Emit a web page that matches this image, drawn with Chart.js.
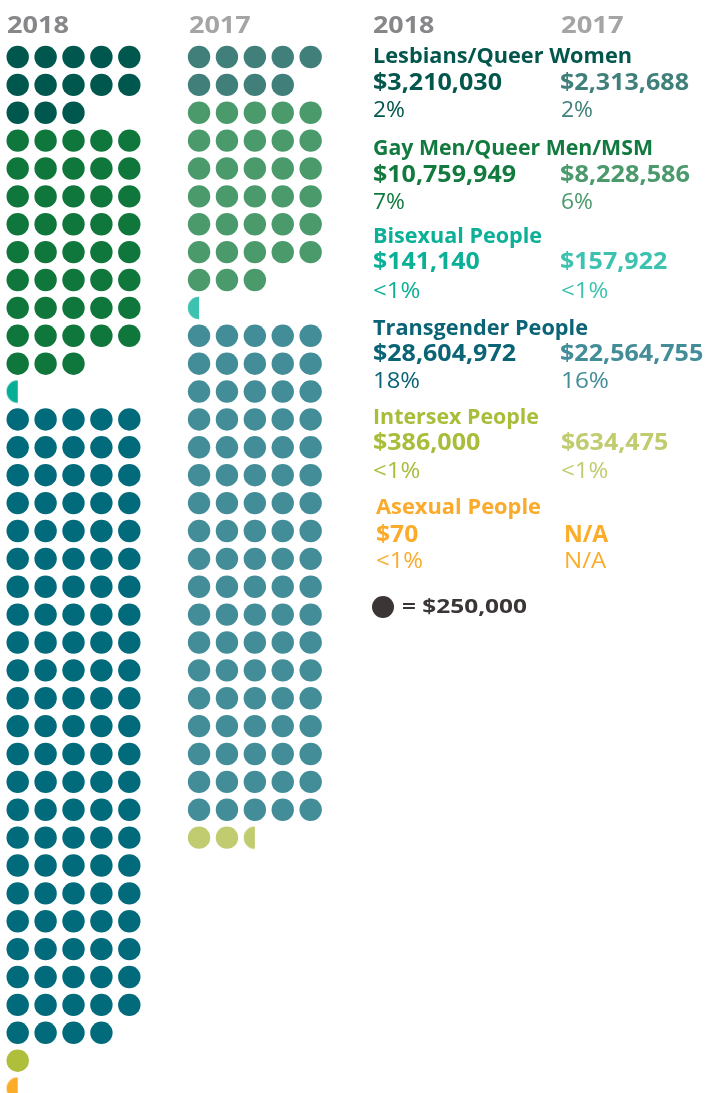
<!DOCTYPE html>
<html>
<head>
<meta charset="utf-8">
<script src="https://cdn.jsdelivr.net/npm/chart.js@4.4.1/dist/chart.umd.min.js"></script>
<style>
  html, body { margin: 0; padding: 0; background: #ffffff; }
  #wrap { position: relative; width: 707px; height: 1093px; overflow: hidden; background: #fff; }
  #chart { position: absolute; left: 0; top: 0; }
  .t { position: absolute; white-space: nowrap; font-family: "Open Sans", "DejaVu Sans", sans-serif; transform-origin: 0 0; line-height: 1.2; }
  .b { font-weight: 700; }
  .r { font-weight: 400; }
  #legdot { position: absolute; border-radius: 50%; background: #3b3535; }
</style>
</head>
<body>
<div id="wrap">
  <canvas id="chart" width="707" height="1093"></canvas>
</div>
<script>
// ---------------- DATA ----------------
const years = ['2018', '2017'];
const categories = ['Lesbians/Queer Women', 'Gay Men/Queer Men/MSM', 'Bisexual People', 'Transgender People', 'Intersex People', 'Asexual People'];
const amounts2018 = ['$3,210,030', '$10,759,949', '$141,140', '$28,604,972', '$386,000', '$70'];
const amounts2017 = ['$2,313,688', '$8,228,586', '$157,922', '$22,564,755', '$634,475', 'N/A'];
const pct2018 = ['2%', '7%', '<1%', '18%', '<1%', '<1%'];
const pct2017 = ['2%', '6%', '<1%', '16%', '<1%', 'N/A'];
// dots (1 dot = $250,000)
const fullDots2018 = [13, 43, 0, 114, 1, 0];
const halfDots2018 = [0, 0, 1, 0, 0, 1];
const fullDots2017 = [9, 33, 0, 90, 2, 0];
const halfDots2017 = [0, 0, 1, 0, 1, 0];
const dotLegend = '= $250,000';
const colors2018 = ['#00574d', '#0f773b', '#05ae94', '#016a7b', '#afbe3b', '#fbad2a'];
const colors2017 = ['#41807a', '#4b9a6b', '#3dc2b0', '#438d99', '#c1cc70', '#fbad2a'];
const labelColors = ['#02564c', '#127a3e', '#0bb096', '#0b6476', '#a9bd3b', '#fbab2b'];

// ---------------- GEOMETRY ----------------
const PER_ROW = 5;
const COL_OFFSET = { '2018': 0, '2017': 6.5 };
const R = 11.2;

function halfDotStyle(color) {
  const c = document.createElement('canvas');
  c.width = 24; c.height = 24;
  const g = c.getContext('2d');
  g.fillStyle = color;
  g.beginPath();
  g.moveTo(12, 12 + R);
  g.arc(12, 12, R, Math.PI / 2, Math.PI * 3 / 2);
  g.closePath();
  g.fill();
  return c;
}

function buildDatasets(year, full, half, cols) {
  const ds = [];
  let row = 0;
  for (let i = 0; i < categories.length; i++) {
    const n = full[i] + half[i];
    if (n === 0) continue;
    const fullPts = [], halfPts = [];
    for (let k = 0; k < n; k++) {
      const p = { x: COL_OFFSET[year] + (k % PER_ROW), y: row + Math.floor(k / PER_ROW) };
      (k < full[i] ? fullPts : halfPts).push(p);
    }
    if (fullPts.length) ds.push({ label: year + ' ' + categories[i], data: fullPts, backgroundColor: cols[i], borderWidth: 0, pointRadius: R, pointStyle: 'circle', clip: false });
    if (halfPts.length) ds.push({ label: year + ' ' + categories[i] + ' (partial)', data: halfPts, backgroundColor: cols[i], borderWidth: 0, pointRadius: R, pointStyle: halfDotStyle(cols[i]), clip: false });
    row += Math.ceil(n / PER_ROW);
  }
  return ds;
}

const datasets = [
  ...buildDatasets('2018', fullDots2018, halfDots2018, colors2018),
  ...buildDatasets('2017', fullDots2017, halfDots2017, colors2017)
];

const cell = 27.9, rowH = 27.88;
const xMin = -17.7 / cell, xMax = xMin + 707 / cell;
const yMin = -57 / rowH, yMax = yMin + 1093 / rowH;

new Chart(document.getElementById('chart'), {
  type: 'scatter',
  data: { datasets },
  options: {
    responsive: false,
    animation: false,
    events: [],
    layout: { padding: 0, autoPadding: false },
    plugins: { legend: { display: false }, tooltip: { enabled: false } },
    scales: {
      x: { type: 'linear', display: false, min: xMin, max: xMax },
      y: { type: 'linear', display: false, reverse: true, min: yMin, max: yMax }
    }
  }
});

// ---------------- TEXT ----------------
const wrap = document.getElementById('wrap');
function addText(txt, x, baseline, cap, weight, color, targetW) {
  const el = document.createElement('div');
  el.className = 't ' + weight;
  el.textContent = txt;
  el.style.left = x + 'px';
  el.style.top = '0px';
  el.style.fontSize = (cap / 0.714).toFixed(2) + 'px';
  el.style.color = color;
  wrap.appendChild(el);
  const w = el.getBoundingClientRect().width;
  const m = document.createElement('span');
  m.style.display = 'inline-block'; m.style.width = '0'; m.style.height = '0'; m.style.verticalAlign = 'baseline';
  el.appendChild(m);
  const b = m.offsetTop;
  el.style.top = (baseline - b) + 'px';
  if (targetW) el.style.transform = 'scaleX(' + (targetW / w).toFixed(4) + ')';
  return el;
}

// column headers
addText(years[0], 7.3, 33.3, 16.7, 'b', '#87878a', 62);
addText(years[1], 189, 33.3, 16.7, 'b', '#a5a5a5', 61.7);
addText(years[0], 372.7, 33.3, 16.7, 'b', '#87878a', 61.3);
addText(years[1], 560.7, 33.3, 16.7, 'b', '#a5a5a5', 62.6);

const labelBase = [62.7, 155, 243.3, 335, 424.3, 514.3];
const amtBase = [90, 181.7, 269.3, 361, 450, 541.7];
const pctBase = [117.3, 209, 297.7, 387.7, 478.3, 568.3];
const labelW = [259, 280, 169, 215, 166, 165];
const amtW18 = [129, 143, 106.7, 143, 107.3, 42.3];
const amtW17 = [129, 130, 107.3, 143.3, 107.3, 44.3];
const pctW18 = [32, 32, 47.3, 47, 47.3, 47];
const pctW17 = [32, 32, 47.3, 48, 47.3, 42.3];
const leftX = [372.7, 372.7, 372.7, 372.7, 372.7, 375.5];
const rightX = [560.3, 560.3, 560.3, 560.3, 560.5, 564];

for (let i = 0; i < categories.length; i++) {
  addText(categories[i], leftX[i], labelBase[i], 15.2, 'b', labelColors[i], labelW[i]);
  addText(amounts2018[i], leftX[i], amtBase[i], 16, 'b', labelColors[i], amtW18[i]);
  addText(amounts2017[i], rightX[i], amtBase[i], 16, 'b', colors2017[i], amtW17[i]);
  addText(pct2018[i], leftX[i] + 0.3, pctBase[i], 15.4, 'r', labelColors[i], pctW18[i]);
  addText(pct2017[i], rightX[i] + 0.3, pctBase[i], 15.4, 'r', colors2017[i], pctW17[i]);
}

// legend
const ld = document.createElement('div');
ld.id = 'legdot';
ld.style.left = (382.5 - 11) + 'px';
ld.style.top = (606.7 - 11) + 'px';
ld.style.width = '22px'; ld.style.height = '22px';
wrap.appendChild(ld);
addText(dotLegend, 401.7, 613.3, 14, 'b', '#3b3535', 125);
</script>
</body>
</html>
